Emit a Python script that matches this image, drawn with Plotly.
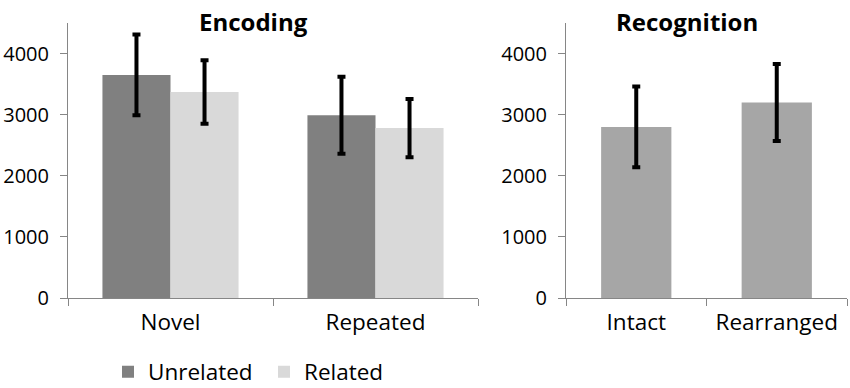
import plotly.graph_objects as go

# Data
enc_categories = ["Novel", "Repeated"]
unrelated_vals = [3650, 2990]
unrelated_err = [660, 630]
related_vals = [3370, 2780]
related_err = [520, 475]

rec_categories = ["Intact", "Rearranged"]
rec_vals = [2800, 3200]
rec_err = [660, 630]

y_ticks = [0, 1000, 2000, 3000, 4000]

W, H = 850, 388
PL, PR, PT, PB = 68, 847, 23, 298   # plot area in pixels
ML, MR, MT, MB = PL, W - PR, PT, H - PB
PW = PR - PL
PH = PB - PT

def px_x(p):
    return (p - PL) / PW

def px_y(p):
    return 1 - (p - PT) / PH

FONT = "Open Sans"
AXC = "#868686"

fig = go.Figure()

err_style = dict(type="data", color="black", thickness=4, width=4)

fig.add_trace(go.Bar(
    x=enc_categories, y=unrelated_vals, name="Unrelated",
    marker=dict(color="#808080", line=dict(width=0)),
    error_y=dict(array=unrelated_err, **err_style),
    xaxis="x", yaxis="y"))
fig.add_trace(go.Bar(
    x=enc_categories, y=related_vals, name="Related",
    marker=dict(color="#d9d9d9", line=dict(width=0)),
    error_y=dict(array=related_err, **err_style),
    xaxis="x", yaxis="y"))
fig.add_trace(go.Bar(
    x=rec_categories, y=rec_vals, name="Recognition", showlegend=False,
    marker=dict(color="#a6a6a6", line=dict(width=0)),
    error_y=dict(array=rec_err, **err_style),
    width=0.5, offsetgroup="r",
    xaxis="x2", yaxis="y2"))

axis_common = dict(showline=True, linecolor=AXC, linewidth=1, showgrid=False,
                   zeroline=False, ticks="outside", tickcolor=AXC, ticklen=7,
                   automargin=False)
xfmt = dict(tickson="boundaries", tickfont=dict(size=22.5),
            ticklabelstandoff=4, **axis_common)
yfmt = dict(range=[0, 4500], tickvals=y_ticks, tickfont=dict(size=20),
            ticklabelstandoff=7, **axis_common)

fig.update_layout(
    width=W, height=H,
    margin=dict(l=ML, r=MR, t=MT, b=MB, autoexpand=False),
    paper_bgcolor="white", plot_bgcolor="white",
    barmode="group", bargap=0.336, bargroupgap=0,
    font=dict(family=FONT, color="black"),
    xaxis=dict(domain=[0, px_x(478)], anchor="y", **xfmt),
    yaxis=dict(domain=[0, 1], anchor="x", **yfmt),
    xaxis2=dict(domain=[px_x(566), 1], anchor="y2", **xfmt),
    yaxis2=dict(domain=[0, 1], anchor="x2", **yfmt),
    legend=dict(orientation="h", x=px_x(108), xanchor="left",
                y=px_y(372), yanchor="middle", font=dict(size=22.5),
                entrywidth=111, traceorder="normal", bgcolor="rgba(0,0,0,0)"),
    showlegend=True,
    annotations=[
        dict(text="<b>Encoding</b>", xref="paper", yref="paper",
             x=px_x(253), y=px_y(22), xanchor="center", yanchor="middle",
             showarrow=False, font=dict(size=24, family=FONT)),
        dict(text="<b>Recognition</b>", xref="paper", yref="paper",
             x=px_x(687), y=px_y(22), xanchor="center", yanchor="middle",
             showarrow=False, font=dict(size=24, family=FONT)),
    ],
)

fig.write_html("out.html",
               config={"displayModeBar": False},
               post_script="document.body.style.margin='0';document.body.style.overflow='hidden';")
